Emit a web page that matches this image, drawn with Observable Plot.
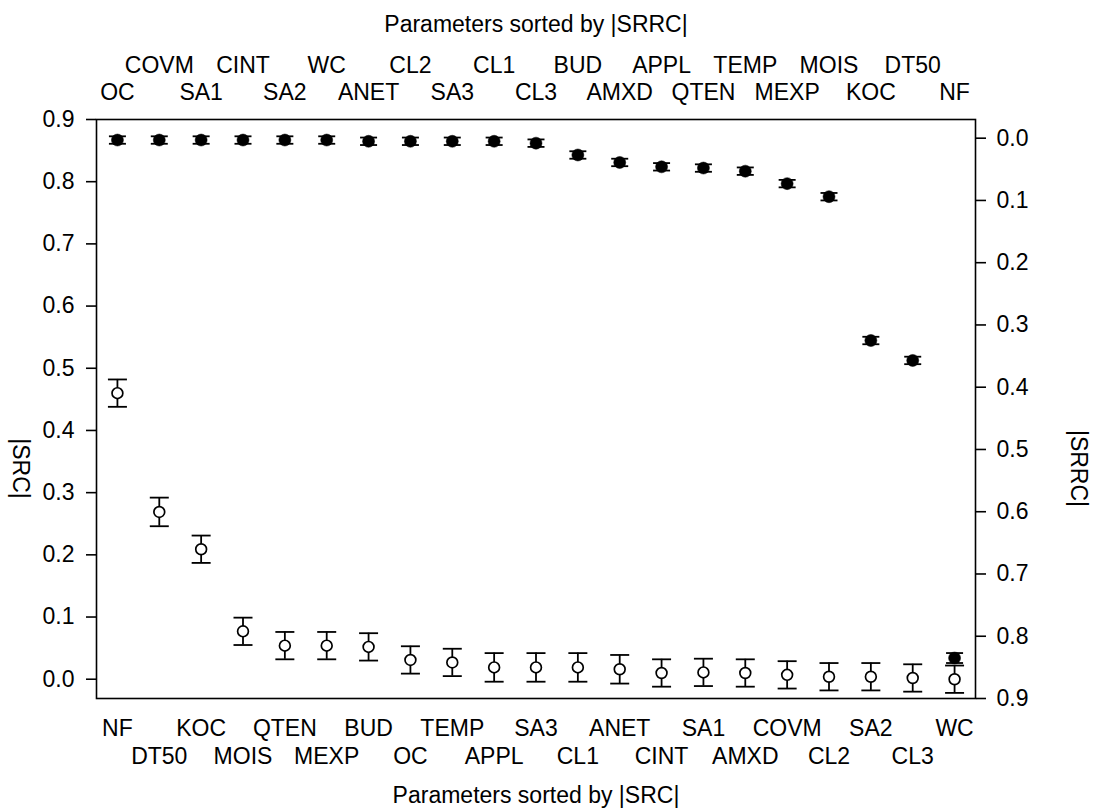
<!DOCTYPE html>
<html><head><meta charset="utf-8">
<script src="https://cdn.jsdelivr.net/npm/d3@7"></script>
<script src="https://cdn.jsdelivr.net/npm/@observablehq/plot@0.6"></script>
<style>
html,body{margin:0;padding:0;background:#fff;}
#wrap{position:relative;width:1093px;height:810px;}
#wrap svg{position:absolute;left:0;top:0;}
</style></head><body><div id="wrap"></div>
<script>
// Parameters sorted by |SRC| (bottom axis) with |SRC| values and error half-widths
const srcParams = ["NF","DT50","KOC","MOIS","QTEN","MEXP","BUD","OC","TEMP","APPL","SA3","CL1","ANET","CINT","SA1","AMXD","COVM","CL2","SA2","CL3","WC"];
const srcValues = [0.460,0.269,0.209,0.077,0.054,0.054,0.052,0.031,0.027,0.019,0.019,0.019,0.016,0.010,0.011,0.010,0.007,0.004,0.004,0.002,0.000];
const srcErr    = [0.022,0.023,0.022,0.022,0.022,0.022,0.022,0.022,0.022,0.023,0.023,0.023,0.023,0.022,0.022,0.022,0.022,0.022,0.022,0.022,0.022];

// Parameters sorted by |SRRC| (top axis) with |SRRC| values and error half-widths
const srrcParams = ["OC","COVM","SA1","CINT","SA2","WC","ANET","CL2","SA3","CL1","CL3","BUD","AMXD","APPL","QTEN","TEMP","MEXP","MOIS","KOC","DT50","NF"];
const srrcValues = [0.003,0.003,0.003,0.003,0.003,0.003,0.005,0.005,0.005,0.005,0.008,0.027,0.039,0.046,0.048,0.053,0.073,0.094,0.325,0.357,0.835];
const srrcErr    = [0.006,0.006,0.006,0.006,0.006,0.006,0.006,0.006,0.006,0.006,0.006,0.006,0.006,0.006,0.006,0.006,0.006,0.006,0.006,0.006,0.008];

// Y tick values (both axes)
const yTicks = [0.0,0.1,0.2,0.3,0.4,0.5,0.6,0.7,0.8,0.9];

const W = 1093, H = 810;
const M = {top:119, right:118, bottom:112, left:96};
const FONT = "'Liberation Sans', Arial, Helvetica, sans-serif";
const FS = 23;

const idx = d3.range(srcParams.length);
const even = idx.filter(i => i % 2 === 0);
const odd = idx.filter(i => i % 2 === 1);

const srcData = idx.map(i => ({i, v: srcValues[i], lo: srcValues[i] - srcErr[i], hi: srcValues[i] + srcErr[i]}));
const srrcData = idx.map(i => ({i, v: srrcValues[i], lo: srrcValues[i] - srrcErr[i], hi: srrcValues[i] + srrcErr[i]}));

// horizontal cap symbol for error bars: half-width equals r
const cap = {draw(ctx, size) { const w = Math.sqrt(size / Math.PI); ctx.moveTo(-w, 0); ctx.lineTo(w, 0); }};

const base = {
  width: W, height: H,
  marginTop: M.top, marginRight: M.right, marginBottom: M.bottom, marginLeft: M.left,
  x: {type: "point", domain: idx, padding: 0.5, round: false}
};

const fmt = d3.format(".1f");

const p1 = Plot.plot({
  ...base,
  style: {fontFamily: FONT, fontSize: FS + "px", background: "white", color: "black"},
  y: {domain: [-0.031, 0.9]},
  marks: [
    Plot.frame({stroke: "black", strokeWidth: 1.6}),
    Plot.axisY(yTicks, {anchor: "left", tickSize: 10, tickPadding: 12, tickFormat: fmt, fontSize: FS, stroke: "black", strokeWidth: 1.6, label: null}),
    Plot.axisX(even, {anchor: "bottom", tickSize: 0, tickPadding: 21, tickFormat: i => srcParams[i], fontSize: FS, label: null}),
    Plot.axisX(odd, {anchor: "bottom", tickSize: 0, tickPadding: 49, tickFormat: i => srcParams[i], fontSize: FS, label: null}),
    Plot.ruleX(srcData, {x: "i", y1: "lo", y2: "hi", stroke: "black", strokeWidth: 1.8}),
    Plot.dot(srcData, {x: "i", y: "lo", symbol: cap, r: 9.5, fill: "none", stroke: "black", strokeWidth: 1.8}),
    Plot.dot(srcData, {x: "i", y: "hi", symbol: cap, r: 9.5, fill: "none", stroke: "black", strokeWidth: 1.8}),
    Plot.dot(srcData, {x: "i", y: "v", r: 5.4, fill: "white", stroke: "black", strokeWidth: 1.7}),
    Plot.text(["|SRC|"], {text: d => d, frameAnchor: "left", textAnchor: "middle", lineAnchor: "middle", dx: -76, dy: 59.5, rotate: 90, fontSize: FS, fill: "black"}),
    Plot.text(["Parameters sorted by |SRC|"], {text: d => d, frameAnchor: "bottom", textAnchor: "middle", lineAnchor: "middle", dy: 97, fontSize: FS, fill: "black"})
  ]
});

const p2 = Plot.plot({
  ...base,
  style: {fontFamily: FONT, fontSize: FS + "px", background: "transparent", color: "black"},
  y: {domain: [-0.03, 0.9], reverse: true},
  marks: [
    Plot.axisY(yTicks, {anchor: "right", tickSize: 10, tickPadding: 11, tickFormat: fmt, fontSize: FS, stroke: "black", strokeWidth: 1.6, label: null}),
    Plot.axisX(even, {anchor: "top", tickSize: 0, tickPadding: 20, tickFormat: i => srrcParams[i], fontSize: FS, label: null}),
    Plot.axisX(odd, {anchor: "top", tickSize: 0, tickPadding: 47, tickFormat: i => srrcParams[i], fontSize: FS, label: null}),
    Plot.ruleX(srrcData, {x: "i", y1: "lo", y2: "hi", stroke: "black", strokeWidth: 1.8}),
    Plot.dot(srrcData, {x: "i", y: "lo", symbol: cap, r: 8.5, fill: "none", stroke: "black", strokeWidth: 1.8}),
    Plot.dot(srrcData, {x: "i", y: "hi", symbol: cap, r: 8.5, fill: "none", stroke: "black", strokeWidth: 1.8}),
    Plot.dot(srrcData, {x: "i", y: "v", r: 6, fill: "black", stroke: "black", strokeWidth: 0.5}),
    Plot.text(["|SRRC|"], {text: d => d, frameAnchor: "right", textAnchor: "middle", lineAnchor: "middle", dx: 103, dy: 59.5, rotate: 90, fontSize: FS, fill: "black"}),
    Plot.text(["Parameters sorted by |SRRC|"], {text: d => d, frameAnchor: "top", textAnchor: "middle", lineAnchor: "middle", dy: -95, fontSize: FS, fill: "black"})
  ]
});

const wrap = document.getElementById("wrap");
wrap.appendChild(p1);
wrap.appendChild(p2);
</script>
</body></html>
